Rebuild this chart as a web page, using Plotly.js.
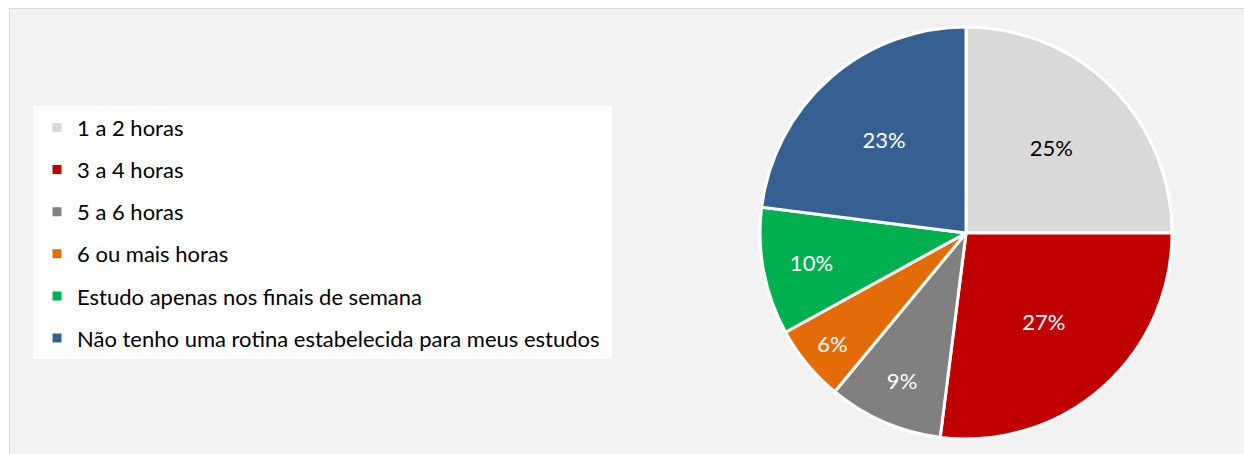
<!DOCTYPE html>
<html>
<head>
<meta charset="utf-8">
<script src="https://cdn.plot.ly/plotly-3.0.1.min.js"></script>
<style>
  html, body { margin: 0; padding: 0; background: #ffffff; }
  #wrap { position: absolute; left: 9px; top: 8px; width: 1235px; height: 446px;
          border-top: 1px solid #d9d9d9; border-left: 1px solid #d9d9d9; background: #f2f2f2; overflow: hidden; }
  #chart { width: 1234px; height: 445px; }
</style>
</head>
<body>
<div id="wrap"><div id="chart"></div></div>
<script>
// Data
var categories = [
  "1 a 2 horas",
  "3 a 4 horas",
  "5 a 6 horas",
  "6 ou mais horas",
  "Estudo apenas nos finais de semana",
  "Não tenho uma rotina estabelecida para meus estudos"
];
var shares = [25, 27, 9, 6, 10, 23];
var colors = ["#d9d9d9", "#c00000", "#808080", "#e36c09", "#00b050", "#376092"];
var labelColors = ["#000000", "#ffffff", "#ffffff", "#ffffff", "#ffffff", "#ffffff"];

var FONT = "Lato, 'Open Sans', sans-serif";

var traces = [{
  type: "pie",
  labels: categories,
  values: shares,
  sort: false,
  direction: "clockwise",
  rotation: 0,
  marker: { colors: colors, line: { color: "#ffffff", width: 3 } },
  textinfo: "percent",
  texttemplate: "%{value}%",
  textposition: "inside",
  insidetextorientation: "horizontal",
  textfont: { family: FONT, size: 22, color: labelColors },
  domain: { x: [0.6078, 0.9417], y: [0.0337, 0.9596] },
  showlegend: false,
  hoverinfo: "label+percent"
}];

// Legend entries built from the same category/colour arrays
categories.forEach(function (c, i) {
  traces.push({
    type: "scatter",
    mode: "markers",
    x: [null], y: [null],
    name: c,
    legendgroup: "g" + i,
    marker: { symbol: "square", size: 9, color: colors[i] },
    showlegend: true,
    hoverinfo: "skip"
  });
});

var layout = {
  width: 1234, height: 445,
  margin: { l: 0, r: 0, t: 0, b: 0 },
  paper_bgcolor: "#f2f2f2",
  plot_bgcolor: "rgba(0,0,0,0)",
  xaxis: { visible: false, domain: [0, 0.01] },
  yaxis: { visible: false, domain: [0, 0.01] },
  showlegend: true,
  legend: {
    x: 0.0219, xanchor: "left",
    y: 0.7804, yanchor: "top",
    bgcolor: "rgba(0,0,0,0)",
    borderwidth: 0,
    font: { family: FONT, size: 22, color: "#000000" },
    tracegroupgap: 10.5,
    traceorder: "grouped",
    itemwidth: 30
  },
  shapes: [{
    type: "rect", xref: "paper", yref: "paper", layer: "below",
    x0: 0.01864, x1: 0.4878, y0: 0.2135, y1: 0.782,
    fillcolor: "#ffffff", line: { width: 0 }
  }],
  font: { family: FONT }
};

Plotly.newPlot("chart", traces, layout, { displayModeBar: false, staticPlot: true });
</script>
</body>
</html>
